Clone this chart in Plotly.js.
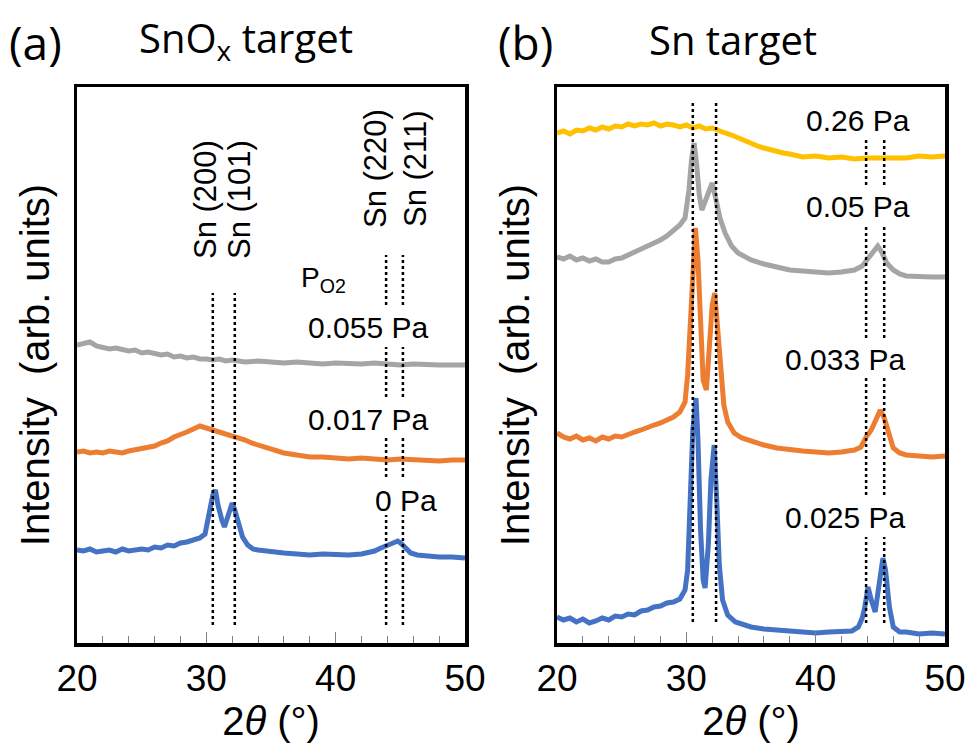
<!DOCTYPE html>
<html><head><meta charset="utf-8">
<script src="https://cdn.plot.ly/plotly-3.0.1.min.js"></script>
<style>html,body{margin:0;padding:0;background:#fff}</style>
</head><body><div id="chart" style="width:975px;height:748px"></div>
<script>
// ---------- Panel (a): SnOx target ----------
const xA055 = [20,20.5,21,21.5,22,22.5,23,23.5,24,24.5,25,25.5,26,26.5,27,27.5,28,28.5,29,29.5,30,30.5,31,31.5,32,32.5,33,34,35,36,37,38,39,40,41,42,43,44,45,46,47,48,49,50];
const yA055 = [298,299,301,297,296,294,295,293,292,293,290,291,289,288,289,286,287,285,286,284,284,283,284,282,283,282,281,282,281,280,281,280,279,280,279,279,280,279,278,279,278,278,278,278];

const xA017 = [20,20.5,21,21.5,22,22.5,23,23.5,24,24.5,25,25.5,26,26.5,27,27.5,28,28.5,29,29.5,30,30.5,31,31.5,32,32.5,33,33.5,34,34.5,35,35.5,36,37,38,39,40,41,42,43,44,45,46,47,48,49,50];
const yA017 = [191,192,190,191,190,192,191,190,192,193,194,196,197,200,202,206,208,211,214,217,215,213,212,209,207,206,203,200,198,195,193,192,190,188,186,186,185,184,185,184,183,184,183,183,182,183,183];

const xA0 = [20,20.5,21,21.5,22,22.5,23,23.5,24,24.5,25,25.5,26,26.5,27,27.5,28,28.5,29,29.5,29.9,30.2,30.5,30.7,30.9,31.2,31.4,31.7,32.0,32.2,32.5,32.8,33.2,33.6,34,35,36,37,38,39,40,41,42,42.5,43,43.5,44,44.5,44.8,45.1,45.4,45.8,46.3,47,48,49,50];
const yA0 = [93,92,94,91,92,93,91,94,92,93,94,93,96,95,98,97,100,101,103,105,109,128,148,153,138,123,116,128,140,133,118,106,98,94,93,91,90,89,88,89,88,88,89,90,92,95,98,100,102,99,95,90,88,87,86,86,85];

// ---------- Panel (b): Sn target ----------
const xB026 = [20,20.5,21,21.5,22,22.5,23,23.5,24,24.5,25,25.5,26,26.5,27,27.5,28,28.5,29,29.5,30,30.5,31,31.5,32,32.5,33,33.5,34,34.5,35,35.5,36,36.5,37,37.5,38,38.5,39,40,41,42,43,44,45,46,47,48,49,50];
const yB026 = [510,512,509,513,512,515,513,516,514,517,516,519,517,519,518,520,517,519,518,516,518,515,517,514,515,512,510,508,505,502,500,497,495,493,492,490,489,488,486,487,485,486,484,485,485,486,485,487,486,487];

const xB05 = [20,20.5,21,21.5,22,22.5,23,23.5,24,24.5,25,25.5,26,26.5,27,27.5,28,28.5,29,29.5,29.9,30.2,30.4,30.6,30.8,31.0,31.2,31.5,31.8,32.0,32.3,32.6,33.0,33.5,34,35,36,37,38,39,40,41,42,43,43.6,44.1,44.5,44.8,45.1,45.5,46,46.5,47,48,49,50];
const yB05 = [386,384,387,383,385,382,384,381,381,384,385,388,391,394,397,399,403,407,413,418,425,453,483,500,478,448,433,443,455,460,443,425,410,397,390,383,379,376,373,372,371,370,371,373,377,385,393,397,391,380,373,369,367,366,366,366];

const xB033 = [20,20.5,21,21.5,22,22.5,23,23.5,24,24.5,25,25.5,26,26.5,27,27.5,28,28.5,29,29.5,29.9,30.1,30.3,30.5,30.7,30.9,31.1,31.3,31.55,31.8,32.0,32.2,32.4,32.6,32.9,33.2,33.7,34.3,35,36,37,38,39,40,41,42,43,43.5,43.9,44.3,44.7,45.0,45.3,45.6,46.0,46.5,47,48,49,50];
const yB033 = [210,206,204,207,203,205,202,206,204,207,206,209,211,213,216,218,220,223,226,231,241,268,323,383,415,383,313,263,253,293,338,350,313,278,238,221,210,205,202,198,195,193,192,191,190,191,193,196,206,213,223,233,225,211,195,190,188,187,186,187];

const xB025 = [20,20.5,21,21.5,22,22.5,23,23.5,24,24.5,25,25.5,26,26.5,27,27.5,28,28.5,29,29.5,29.9,30.1,30.3,30.5,30.75,30.9,31.1,31.3,31.45,31.7,31.9,32.15,32.35,32.55,32.8,33.2,33.8,34.5,35,36,37,38,39,40,41,42,42.8,43.3,43.6,43.8,44.05,44.3,44.6,44.9,45.2,45.4,45.7,46.0,46.5,47,48,49,50];
const yB025 = [26,23,25,21,24,20,22,25,23,27,26,29,28,32,33,36,37,40,41,44,53,73,143,213,245,203,113,63,55,98,163,198,143,78,43,28,21,18,16,14,13,12,11,10,11,11,12,16,25,36,56,43,31,58,85,73,36,16,11,11,9,10,9];

// reference peak positions (2θ) and the vertical extents of their dotted markers
const peakNames = ['Sn (200)','Sn (101)','Sn (220)','Sn (211)'];
const refA = [30.5, 32.2, 43.9, 45.2];
const refB = [30.5, 32.3, 43.9, 45.3];
const segALow = [[18,350]];
const segAHigh = [[18,128],[166,205],[246,296],[338,388]];
const segBLow = [[21,541]];
const segBHigh = [[20,106],[148,265],[305,418],[458,503]];

const xTicks = [20,30,40,50];

const C_BLUE='#4472C4', C_ORANGE='#ED7D31', C_GRAY='#A5A5A5', C_YELLOW='#FFC000';
const LW = 5;
function tr(x,y,c,xa,ya,name){return {x:x,y:y,type:'scatter',mode:'lines',name:name,line:{color:c,width:LW},xaxis:xa,yaxis:ya,hoverinfo:'skip'};}

const data = [
  tr(xA055,yA055,C_GRAY,'x','y','0.055 Pa'),
  tr(xA017,yA017,C_ORANGE,'x','y','0.017 Pa'),
  tr(xA0,yA0,C_BLUE,'x','y','0 Pa'),
  tr(xB026,yB026,C_YELLOW,'x2','y2','0.26 Pa'),
  tr(xB05,yB05,C_GRAY,'x2','y2','0.05 Pa'),
  tr(xB033,yB033,C_ORANGE,'x2','y2','0.033 Pa'),
  tr(xB025,yB025,C_BLUE,'x2','y2','0.025 Pa')
];

const shapes = [];
function addRef(xs, low, high, xr, yr){
  xs.forEach((v,i)=>{
    const segs = i<2 ? low : high;
    segs.forEach(s=>shapes.push({type:'line',xref:xr,yref:yr,x0:v,x1:v,y0:s[0],y1:s[1],layer:'above',line:{color:'black',width:2.5,dash:'dot'}}));
  });
}
addRef(refA, segALow, segAHigh, 'x', 'y');
addRef(refB, segBLow, segBHigh, 'x2', 'y2');

const W=975, H=748;
const px = v=>v/W, py = v=>1-v/H;
const ARIAL = "Arial, 'Liberation Sans', Helvetica, sans-serif";
const TITLEF = "'Open Sans', sans-serif";

function xax(dom, anchor){
  return {domain:dom, anchor:anchor, range:[20,50], tickvals:xTicks, ticktext:xTicks.map(String),
    showline:true, mirror:true, linewidth:3.5, linecolor:'black',
    ticks:'inside', ticklen:11, tickwidth:1, tickcolor:'#808080',
    minor:{dtick:2, tick0:20, ticks:'inside', ticklen:7, tickwidth:1, tickcolor:'#808080', showgrid:false},
    tickfont:{family:ARIAL, size:37, color:'black'},
    showgrid:false, zeroline:false, fixedrange:true,
    title:{text:'2<i>θ</i> (°)', font:{family:ARIAL, size:40, color:'black'}, standoff:10}};
}
function yax(dom, anchor, top){
  return {domain:dom, anchor:anchor, range:[0,top], showline:true, mirror:true, linewidth:3.5, linecolor:'black',
    ticks:'', showticklabels:false, showgrid:false, zeroline:false, fixedrange:true,
    title:{text:'Intensity  (arb. units)', font:{family:ARIAL, size:40, color:'black'}, standoff:12}};
}

const ann = [];
function txt(t,x,y,size,fam,xa,ya,rot){ann.push({text:t,xref:'paper',yref:'paper',x:px(x),y:py(y),xanchor:xa||'left',yanchor:ya||'middle',showarrow:false,borderpad:0,textangle:rot||0,font:{family:fam,size:size,color:'black'}});}
txt('(a)',8,42,46,TITLEF);
txt('SnO<sub>x</sub> target',138,40,40,TITLEF);
txt('(b)',497,42,46,TITLEF);
txt('Sn target',648,40,40,TITLEF);
// rotated peak labels (panel a)
txt(peakNames[0],206,200,31,ARIAL,'center','middle',-90);
txt(peakNames[1],240,200,31,ARIAL,'center','middle',-90);
txt(peakNames[2],375,169,31,ARIAL,'center','middle',-90);
txt(peakNames[3],415,169,31,ARIAL,'center','middle',-90);
txt('P<sub>O2</sub>',300,280,28,ARIAL,'left','middle');
// pressure labels
txt('0.055 Pa',429,327,30,ARIAL,'right');
txt('0.017 Pa',429,419,30,ARIAL,'right');
txt('0 Pa',438,500,30,ARIAL,'right');
txt('0.26 Pa',911,121,30,ARIAL,'right');
txt('0.05 Pa',911,206,30,ARIAL,'right');
txt('0.033 Pa',906,359,30,ARIAL,'right');
txt('0.025 Pa',906,517,30,ARIAL,'right');

const yDom = [py(643), py(87)];
const layout = {
  width:W, height:H, margin:{l:0,r:0,t:0,b:0}, paper_bgcolor:'white', plot_bgcolor:'white', showlegend:false,
  xaxis: xax([px(77),px(465)],'y'),
  yaxis: yax(yDom,'x',556),
  xaxis2: xax([px(557),px(945)],'y2'),
  yaxis2: yax(yDom,'x2',556),
  shapes: shapes, annotations: ann
};
Plotly.newPlot('chart', data, layout, {displayModeBar:false, staticPlot:true});
</script></body></html>
